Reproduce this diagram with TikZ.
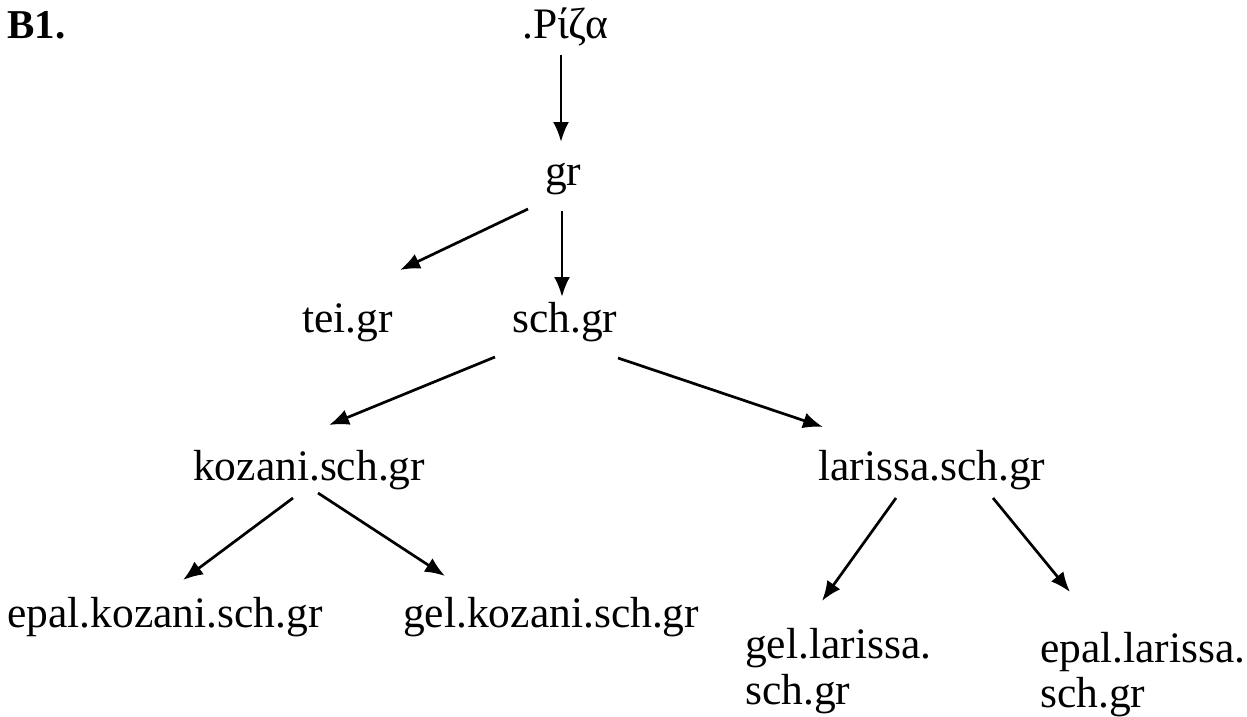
\documentclass[tikz,border=0pt]{standalone}
\usepackage{fontspec}
\setmainfont{Liberation Serif}
\usetikzlibrary{arrows.meta,calc}
\begin{document}
\begin{tikzpicture}[x=1pt,y=-1pt,
  lbl/.style={inner sep=0pt,anchor=base west,font=\fontsize{43.5}{48}\selectfont},
  arr/.style={line width=2.7pt,-{Latex[length=20pt,width=16pt]}}]
\useasboundingbox (0,0) rectangle (1247,717);
\node[lbl,font=\fontsize{41}{48}\selectfont\bfseries] (b1) at (7,39) {B1.};
\node[lbl] (root) at (522,38) {.Ρίζα};
\node[lbl] (gr) at (545,185) {gr};
\node[lbl] (tei) at (302,332) {tei.gr};
\node[lbl] (sch) at (512,332) {sch.gr};
\node[lbl] (koz) at (193,480) {kozani.sch.gr};
\node[lbl] (lar) at (818,480) {larissa.sch.gr};
\node[lbl] (epk) at (7,627) {epal.kozani.sch.gr};
\node[lbl] (gek) at (403,627) {gel.kozani.sch.gr};
\node[lbl] (gell1) at (745,658) {gel.larissa.};
\node[lbl] (gell2) at (745,704) {sch.gr};
\node[lbl] (epl1) at (1040,662) {epal.larissa.};
\node[lbl] (epl2) at (1040,707) {sch.gr};
\draw[arr] ($(root.base west)+(39,17)$) -- ($(gr.base west)+(16,-43)$);
\draw[arr] ($(gr.base west)+(-17,24)$) -- ($(tei.base west)+(98,-62)$);
\draw[arr] ($(gr.base west)+(17,26)$) -- ($(sch.base west)+(50,-35)$);
\draw[arr] ($(sch.base west)+(-17,25)$) -- ($(koz.base west)+(136,-55)$);
\draw[arr] ($(sch.base west)+(106,26)$) -- ($(lar.base west)+(5,-53)$);
\draw[arr] ($(koz.base west)+(100,18)$) -- ($(epk.base west)+(176,-47)$);
\draw[arr] ($(koz.base west)+(125,13)$) -- ($(gek.base west)+(42,-51)$);
\draw[arr] ($(lar.base west)+(78,18)$) -- ($(gell1.base west)+(77,-57)$);
\draw[arr] ($(lar.base west)+(175,18)$) -- ($(epl1.base west)+(30,-70)$);
\end{tikzpicture}
\end{document}
